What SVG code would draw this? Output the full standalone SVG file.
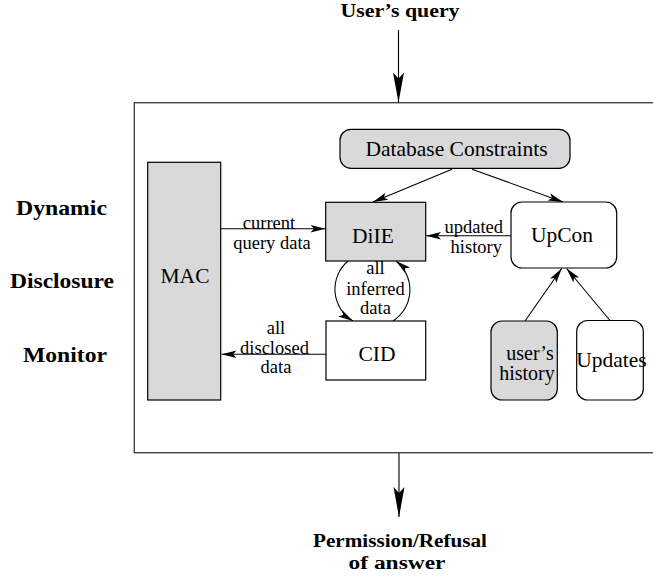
<svg xmlns="http://www.w3.org/2000/svg" width="653" height="578" viewBox="0 0 653 578">
<style>
.box{stroke:#000;stroke-width:1.2;fill:#fff}
.grey{fill:#d9d9d9}
.t{font-family:"Liberation Serif","Times New Roman",serif;font-size:21.5px;fill:#000;text-anchor:middle}
.s{font-family:"Liberation Serif","Times New Roman",serif;font-size:18.5px;fill:#000;text-anchor:middle}
.b{font-family:"Liberation Serif","Times New Roman",serif;font-weight:bold;fill:#000;text-anchor:middle}
.c{stroke:#000;stroke-width:1.1;fill:none}
</style>
<defs>
<marker id="ah" markerUnits="userSpaceOnUse" markerWidth="20" markerHeight="10" viewBox="-17 -5 20 10" refX="0" refY="0" orient="auto">
<path d="M0,0 L-15,-3.8 L-11.5,0 L-15,3.8 Z" fill="#000"/>
</marker>
<marker id="big" markerUnits="userSpaceOnUse" markerWidth="34" markerHeight="14" viewBox="-32 -7 34 14" refX="0" refY="0" orient="auto">
<path d="M0,0 L-30,-5.5 L-24,0 L-30,5.5 Z" fill="#000"/>
</marker>
</defs>
<rect id="frame" x="134.3" y="102.7" width="540" height="350" fill="none" stroke="#444" stroke-width="1.4"/>
<g id="labels">
<text class="b" x="400" y="17" font-size="18.5" textLength="119" lengthAdjust="spacingAndGlyphs">User’s query</text>
<text class="b" x="61.5" y="215" font-size="22" textLength="91" lengthAdjust="spacingAndGlyphs">Dynamic</text>
<text class="b" x="62" y="288" font-size="22" textLength="104" lengthAdjust="spacingAndGlyphs">Disclosure</text>
<text class="b" x="65" y="362" font-size="22" textLength="84" lengthAdjust="spacingAndGlyphs">Monitor</text>
<text class="b" x="400" y="547" font-size="18.5" textLength="174" lengthAdjust="spacingAndGlyphs">Permission/Refusal</text>
<text class="b" x="397" y="569" font-size="18.5" textLength="97" lengthAdjust="spacingAndGlyphs">of answer</text>
</g>
<g id="connectors">
<line class="c" x1="398.5" y1="30" x2="398.5" y2="102.5" marker-end="url(#big)"/>
<line class="c" x1="399" y1="453" x2="399" y2="517" marker-end="url(#big)"/>
<line class="c" x1="221" y1="228.7" x2="325.5" y2="228.7" marker-end="url(#ah)"/>
<line class="c" x1="326" y1="354.3" x2="221.5" y2="354.3" marker-end="url(#ah)"/>
<line class="c" x1="511" y1="235.7" x2="426" y2="235.7" marker-end="url(#ah)"/>
<line class="c" x1="452" y1="169.3" x2="373" y2="202" marker-end="url(#ah)"/>
<line class="c" x1="472" y1="169.3" x2="563" y2="202" marker-end="url(#ah)"/>
<line class="c" x1="525" y1="321" x2="561.7" y2="268.5" marker-end="url(#ah)"/>
<line class="c" x1="610" y1="320.5" x2="566.7" y2="268.5" marker-end="url(#ah)"/>
<path class="c" d="M348,261 A37,37 0 0 0 353,321" marker-end="url(#ah)"/>
<path class="c" d="M393,321 A37,37 0 0 0 396,261" marker-end="url(#ah)"/>
<text class="s" x="269" y="228.5">current</text>
<text class="s" x="272" y="249">query data</text>
<text class="s" x="276" y="334.3">all</text>
<text class="s" x="274.5" y="354">disclosed</text>
<text class="s" x="276" y="373.3">data</text>
<text class="s" x="503" y="233" style="text-anchor:end">updated</text>
<text class="s" x="502" y="253" style="text-anchor:end">history</text>
<text class="s" x="375.5" y="274.3">all</text>
<text class="s" x="375.5" y="295">inferred</text>
<text class="s" x="375.5" y="314">data</text>
</g>
<g id="mac">
<rect class="box grey" x="147.7" y="162.3" width="73" height="237.7"/>
<text class="t" x="185" y="282.7">MAC</text>
</g>
<g id="dbc">
<rect class="box grey" x="340" y="129.3" width="230" height="39" rx="11"/>
<text class="t" x="456.5" y="155.7">Database  Constraints</text>
</g>
<g id="diie">
<rect class="box grey" x="325.7" y="202.3" width="100" height="58.7"/>
<text class="t" x="373" y="242.7">DiIE</text>
</g>
<g id="cid">
<rect class="box" x="326" y="321" width="99.7" height="59"/>
<text class="t" x="377" y="361">CID</text>
</g>
<g id="upcon">
<rect class="box" x="511" y="202" width="105.7" height="66" rx="11"/>
<text class="t" x="562" y="242">UpCon</text>
</g>
<g id="history">
<rect class="box grey" x="491" y="321" width="66.3" height="79" rx="11"/>
<text class="t" x="530" y="360" style="font-size:20px">user’s</text>
<text class="t" x="527" y="380" style="font-size:20px">history</text>
</g>
<g id="updates">
<rect class="box" x="576.7" y="320.5" width="66.6" height="79.5" rx="11"/>
<text class="t" x="611.5" y="367">Updates</text>
</g>
</svg>
